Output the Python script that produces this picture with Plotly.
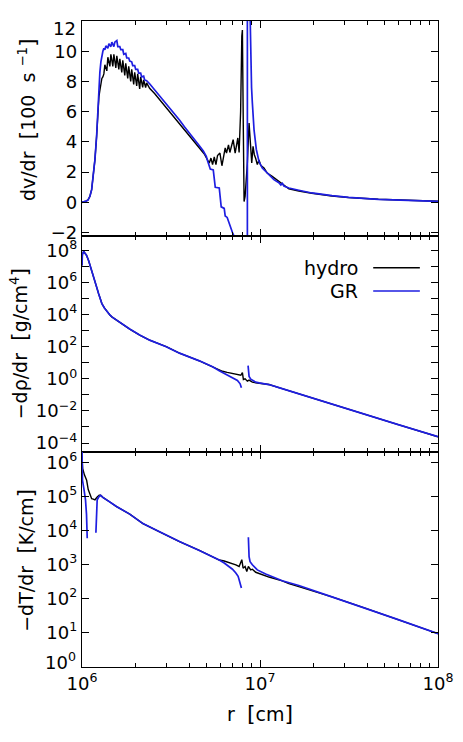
import plotly.graph_objects as go
from plotly.subplots import make_subplots

# ---------------- data (r in units of 1e6 cm) ----------------
# Panel 1: dv/dr [100 s^-1]
R_DV_HYDRO = [1.000, 1.026, 1.053, 1.080, 1.108, 1.133, 1.152, 1.182, 1.208, 1.233,
              1.245, 1.260, 1.277, 1.293, 1.310, 1.327, 1.344, 1.379, 1.397, 1.434,
              1.453, 1.490, 1.510, 1.549, 1.569, 1.610, 1.631, 1.673, 1.695, 1.739,
              1.761, 1.807, 1.830, 1.878, 1.902, 1.952, 1.977, 2.029, 2.055, 2.109,
              2.136, 2.192, 2.220, 2.278, 2.307, 2.398, 2.557, 2.728, 2.909, 3.102,
              3.308, 3.528, 3.762, 4.013, 4.279, 4.563, 4.865, 4.992, 5.090, 5.189,
              5.303, 5.414, 5.534, 5.656, 5.773, 5.955, 6.110, 6.213, 6.375, 6.483,
              6.652, 6.773, 6.949, 7.066, 7.251, 7.373, 7.506, 7.633, 7.782, 7.903,
              7.964, 8.057, 8.140, 8.246, 8.321, 8.493, 8.681, 8.872, 8.987, 9.140,
              9.294, 9.462, 9.659, 9.872, 10.09, 10.53, 10.98, 11.71, 12.77, 13.62,
              14.53, 16.52, 19.53, 25.35, 31.42, 46.22, 67.98, 100.0]
DV_HYDRO = [0.0, 0.02, 0.08, 0.15, 0.4, 0.84, 1.6, 2.83, 4.37, 6.6,
            7.0, 7.4, 8.0, 8.2, 8.3, 8.5, 9.1, 8.7, 9.6, 9.0,
            9.8, 9.0, 9.8, 8.9, 9.7, 8.8, 9.5, 8.6, 9.4, 8.4,
            9.2, 8.2, 9.0, 8.0, 8.8, 7.8, 8.6, 7.7, 8.5, 7.5,
            8.3, 7.6, 8.1, 7.6, 7.9, 7.55, 7.2, 6.8, 6.4, 6.0,
            5.6, 5.2, 4.8, 4.4, 4.0, 3.6, 3.2, 2.95, 2.75, 2.6,
            2.93, 2.5, 3.0, 2.5, 3.1, 3.26, 2.42, 2.9, 3.6, 3.26,
            3.8, 3.3, 3.93, 4.15, 3.26, 3.93, 4.26, 3.3, 6.0, 11.0,
            11.4, 5.0, 0.05, 0.4, 0.95, 2.6, 5.25, 3.5, 2.6, 3.7,
            3.15, 2.9, 2.5, 2.8, 2.45, 2.27, 1.94, 1.72, 1.39, 1.12,
            0.9, 0.75, 0.6, 0.42, 0.32, 0.2, 0.12, 0.07]

R_DV_GR = [1.000, 1.026, 1.053, 1.080, 1.108, 1.133, 1.152, 1.182, 1.208, 1.233,
           1.245, 1.260, 1.277, 1.293, 1.310, 1.327, 1.344, 1.362, 1.397, 1.416,
           1.453, 1.471, 1.510, 1.529, 1.569, 1.589, 1.631, 1.652, 1.695, 1.717,
           1.761, 1.784, 1.830, 1.854, 1.902, 1.927, 1.977, 2.003, 2.055, 2.082,
           2.136, 2.163, 2.220, 2.249, 2.307, 2.398, 2.557, 2.728, 2.909, 3.102,
           3.308, 3.528, 3.762, 4.013, 4.279, 4.563, 4.803, 4.992, 5.090, 5.189,
           5.256, 5.463, 5.534, 5.605, 5.902, 5.978, 6.055, 6.294, 6.375, 6.541,
           6.773, 7.003, 7.251, 7.344, 8.493, 8.493, 8.760, 8.816, 8.872, 8.964,
           9.057, 9.258, 9.535, 9.872, 10.30, 10.76, 11.23, 11.97, 12.77, 13.10,
           13.36, 13.62, 14.16, 14.53, 16.52, 19.53, 25.35, 31.42, 46.22, 67.98,
           100.0]
DV_GR = [0.0, 0.02, 0.08, 0.15, 0.4, 0.84, 1.6, 2.83, 4.37, 6.6,
         7.6, 8.6, 9.3, 9.8, 10.0, 10.2, 10.1, 10.35, 10.2, 10.5,
         10.3, 10.6, 10.3, 10.6, 10.7, 10.3, 10.3, 10.1, 10.1, 9.8,
         9.85, 9.55, 9.55, 9.35, 9.3, 9.05, 9.05, 8.8, 8.8, 8.55,
         8.55, 8.3, 8.35, 8.1, 8.05, 7.85, 7.45, 7.1, 6.65, 6.3,
         5.85, 5.45, 5.0, 4.6, 4.2, 3.75, 3.4, 3.05, 2.7, 2.3,
         2.2, 2.15, 1.5, 1.0, 0.95, 0.0, -0.3, -0.4, -0.9, -1.0,
         -1.6, -2.0, -2.4, -3.5, -3.5, 13.5, 13.5, 11.0, 9.0, 7.6,
         6.6, 4.8, 3.5, 2.7, 2.27, 2.05, 1.85, 1.5, 1.3, 1.15,
         1.25, 1.08, 1.0, 0.95, 0.8, 0.62, 0.44, 0.33, 0.2, 0.12,
         0.07]

# Panel 2: -drho/dr [g/cm^4]
R_DRHO_HYDRO = [1.000, 1.005, 1.022, 1.039, 1.060, 1.090, 1.113, 1.137, 1.163, 1.187,
                1.213, 1.240, 1.265, 1.293, 1.336, 1.379, 1.434, 1.471, 1.563, 1.701,
                1.854, 2.109, 2.398, 2.973, 3.528, 4.563, 5.414, 5.902, 6.157, 6.541,
                7.003, 7.344, 7.802, 7.964, 8.067, 8.246, 8.493, 8.681, 9.057, 9.659,
                10.13, 10.76, 11.23, 12.77, 16.52, 25.35, 36.67, 59.77, 100.0]
DRHO_HYDRO = [1.17e7, 5.6e7, 8.7e7, 7.1e7, 5.0e7, 2.3e7, 1.12e7, 5.6e6, 2.5e6, 1.05e6,
              4.5e5, 2.0e5, 9.5e4, 4.9e4, 2.6e4, 1.55e4, 9.6e3, 7.3e3, 4.5e3, 2.24e3,
              1.26e3, 537, 257, 100, 39.8, 13.2, 5.6, 3.8, 2.95, 2.5,
              2.14, 1.9, 1.66, 2.4, 0.91, 1.0, 0.71, 0.83, 0.62, 0.55,
              0.52, 0.51, 0.44, 0.285, 0.116, 0.027, 7.6e-3, 1.41e-3, 2.45e-4]

R_DRHO_GR = [1.000, 1.005, 1.022, 1.039, 1.060, 1.090, 1.113, 1.137, 1.163, 1.187,
             1.213, 1.240, 1.265, 1.293, 1.336, 1.379, 1.434, 1.471, 1.563, 1.701,
             1.854, 2.109, 2.398, 2.973, 3.528, 4.563, 5.414, 5.902, 6.157, 6.541,
             7.003, 7.468, 7.732, 7.863, None, 8.570, 8.603, 8.681, 8.872, 9.140,
             9.462, 9.872, 10.76, 11.23, 12.77, 16.52, 25.35, 36.67, 59.77, 100.0]
DRHO_GR = [1.17e7, 5.6e7, 8.7e7, 7.1e7, 5.0e7, 2.3e7, 1.12e7, 5.6e6, 2.5e6, 1.05e6,
           4.5e5, 2.0e5, 9.5e4, 4.9e4, 2.6e4, 1.55e4, 9.6e3, 7.3e3, 4.5e3, 2.24e3,
           1.26e3, 537, 257, 100, 39.8, 13.2, 5.6, 3.16, 2.5, 1.78,
           1.26, 0.79, 0.49, 0.275, None, 6.6, 2.5, 1.41, 0.95, 0.74,
           0.62, 0.56, 0.51, 0.44, 0.285, 0.116, 0.027, 7.6e-3, 1.41e-3, 2.45e-4]

# Panel 3: -dT/dr [K/cm]
R_DT_HYDRO = [1.000, 1.009, 1.033, 1.062, 1.084, 1.098, 1.133, 1.157, 1.182, 1.217,
              1.249, 1.272, 1.310, 1.434, 1.563, 1.854, 2.200, 2.728, 3.528, 4.563,
              5.189, 5.902, 6.294, 6.712, 7.316, 7.633, 7.903, 8.036, 8.246, 8.428,
              8.603, 8.872, 9.057, 9.462, 10.30, 11.23, 13.33, 14.53, 16.52, 18.78,
              25.35, 38.96, 59.77, 100.0]
DT_HYDRO = [1.5e6, 6.5e5, 4.2e5, 2.95e5, 1.58e5, 1.35e5, 8.5e4, 8.3e4, 7.9e4, 9.5e4,
            1.07e5, 1.07e5, 9.3e4, 6.8e4, 5.0e4, 3.0e4, 1.58e4, 9.1e3, 4.7e3, 2.57e3,
            1.86e3, 1.35e3, 1.26e3, 1.15e3, 977, 871, 1.38e3, 776, 871, 617,
            871, 692, 724, 589, 501, 427, 331, 275, 224, 182,
            112, 52.5, 24, 9.3]

R_DT_GR = [1.000, 1.006, 1.026, 1.046, 1.060, 1.070, None, 1.197, 1.208, 1.217,
           1.249, 1.272, 1.310, 1.434, 1.563, 1.854, 2.200, 2.728, 3.528, 4.563,
           5.189, 5.656, 5.902, 6.294, 6.712, 7.003, 7.316, 7.535, 7.633, 7.782,
           7.863, None, 8.603, 8.625, 8.681, 8.793, 9.057, 9.659, 10.76, 13.33,
           16.52, 25.35, 38.96, 59.77, 100.0]
DT_GR = [2.5e6, 3.0e5, 1.6e5, 8.0e4, 3.0e4, 5.9e3, None, 8.5e3, 4.9e4, 7.9e4,
         1.0e5, 1.07e5, 9.3e4, 6.8e4, 5.0e4, 3.0e4, 1.58e4, 9.1e3, 4.7e3, 2.57e3,
         1.86e3, 1.55e3, 1.35e3, 1.1e3, 871, 724, 562, 447, 355, 263,
         204, None, 6.3e3, 3.16e3, 1.7e3, 1.2e3, 977, 692, 525, 331,
         240, 112, 52.5, 24, 9.3]

X_TICKS = [1e6, 1e7, 1e8]
X_TICK_TEXT = ["10<sup>6</sup>", "10<sup>7</sup>", "10<sup>8</sup>"]
X_MINOR = [k * 1e6 for k in range(2, 10)] + [k * 1e7 for k in range(2, 10)]
DV_TICKS = [-2, 0, 2, 4, 6, 8, 10, 12]
DRHO_EXP = list(range(-4, 9))
DT_EXP = list(range(0, 7))

BLACK = "#000000"
BLUE = "rgb(30,30,225)"
FONT = "DejaVu Sans"
TICK_SIZE = 18
TITLE_SIZE = 19
NB = "\u00a0"


def cm(vals):
    return [None if v is None else v * 1e6 for v in vals]


def sup(e):
    return "10<sup>" + (str(e) if e >= 0 else "\u2212" + str(-e)) + "</sup>"


def br(c):
    return "<span style='font-size:22px'>" + c + "</span>"


fig = make_subplots(rows=3, cols=1, shared_xaxes=True, vertical_spacing=0)

series = [
    (1, R_DV_HYDRO, DV_HYDRO, BLACK, 1.4),
    (1, R_DV_GR, DV_GR, BLUE, 1.7),
    (2, R_DRHO_HYDRO, DRHO_HYDRO, BLACK, 1.4),
    (2, R_DRHO_GR, DRHO_GR, BLUE, 1.7),
    (3, R_DT_HYDRO, DT_HYDRO, BLACK, 1.4),
    (3, R_DT_GR, DT_GR, BLUE, 1.7),
]
for row, rr, yy, col, w in series:
    assert len(rr) == len(yy)
    fig.add_trace(go.Scatter(x=cm(rr), y=yy, mode="lines", showlegend=False,
                             line=dict(color=col, width=w)), row=row, col=1)

axis_common = dict(showline=True, linecolor=BLACK, linewidth=1.3, mirror="allticks",
                   ticks="inside", ticklen=7, tickwidth=1, tickcolor=BLACK,
                   showgrid=False, zeroline=False,
                   tickfont=dict(family=FONT, size=TICK_SIZE, color=BLACK))

for i in range(1, 4):
    fig.update_xaxes(axis_common, type="log", range=[6, 8], tickmode="array",
                     tickvals=X_TICKS, ticktext=X_TICK_TEXT,
                     showticklabels=(i == 3),
                     minor=dict(ticks="inside", ticklen=4, tickwidth=1, tickcolor=BLACK,
                                tickmode="array", tickvals=X_MINOR, showgrid=False),
                     row=i, col=1)

fig.update_yaxes(axis_common, range=[-2.25, 12.0], tickmode="array",
                 tickvals=DV_TICKS,
                 ticktext=[str(v).replace("-", "\u2212") if v != 12 else "" for v in DV_TICKS],
                 row=1, col=1)
fig.update_yaxes(axis_common, type="log", range=[-4.54, 8.88], tickmode="array",
                 tickvals=[10.0 ** e for e in DRHO_EXP],
                 ticktext=[sup(e) if e % 2 == 0 else "" for e in DRHO_EXP],
                 row=2, col=1)
fig.update_yaxes(axis_common, type="log", range=[-0.01, 6.31], tickmode="array",
                 tickvals=[10.0 ** e for e in DT_EXP],
                 ticktext=[sup(e) if e > 0 else "" for e in DT_EXP],
                 row=3, col=1)

tfont = dict(family=FONT, size=TITLE_SIZE, color=BLACK)
annotations = [
    dict(text="dv/dr" + NB * 2 + br("[") + "100" + NB * 2 + "s" + NB + "<sup>\u22121</sup>" + br("]"),
         x=-0.151, y=0.847, textangle=-90),
    dict(text="\u2212d\u03c1/dr" + NB * 2 + br("[") + "g/cm<sup>4</sup>" + br("]"),
         x=-0.176, y=0.5, textangle=-90),
    dict(text="\u2212dT/dr" + NB * 2 + br("[") + "K/cm" + br("]"),
         x=-0.159, y=0.165, textangle=-90),
    dict(text="r" + NB * 2 + br("[") + "cm" + br("]"),
         x=0.5, y=-0.072),
]
for a in annotations:
    fig.add_annotation(xref="paper", yref="paper", xanchor="center", yanchor="middle",
                       showarrow=False, font=tfont, **a)

# end tick labels drawn slightly inside the frame, as in the original
fig.add_annotation(text="12", xref="paper", yref="paper", x=-0.011, y=0.989,
                   xanchor="right", yanchor="middle", showarrow=False,
                   font=dict(family=FONT, size=TICK_SIZE, color=BLACK))
fig.add_annotation(text=sup(0), xref="paper", yref="paper", x=-0.011, y=0.009,
                   xanchor="right", yanchor="middle", showarrow=False,
                   font=dict(family=FONT, size=TICK_SIZE, color=BLACK))

# legend
LEGEND = [("hydro", BLACK, 0.618), ("GR", BLUE, 0.582)]
for name, col, yp in LEGEND:
    fig.add_annotation(text=name, xref="paper", yref="paper", x=0.782, y=yp,
                       xanchor="right", yanchor="middle", showarrow=False, font=tfont)
    fig.add_shape(type="line", xref="paper", yref="paper", x0=0.818, x1=0.949,
                  y0=yp, y1=yp, line=dict(color=col, width=1.6))

# the page body adds an 8 px margin, so the figure is 8 px smaller on each axis
fig.update_layout(width=455, height=734, margin=dict(l=74, r=23, t=10, b=75),
                  paper_bgcolor="white", plot_bgcolor="white",
                  font=dict(family=FONT, size=TICK_SIZE, color=BLACK))

fig.write_html("out.html")
